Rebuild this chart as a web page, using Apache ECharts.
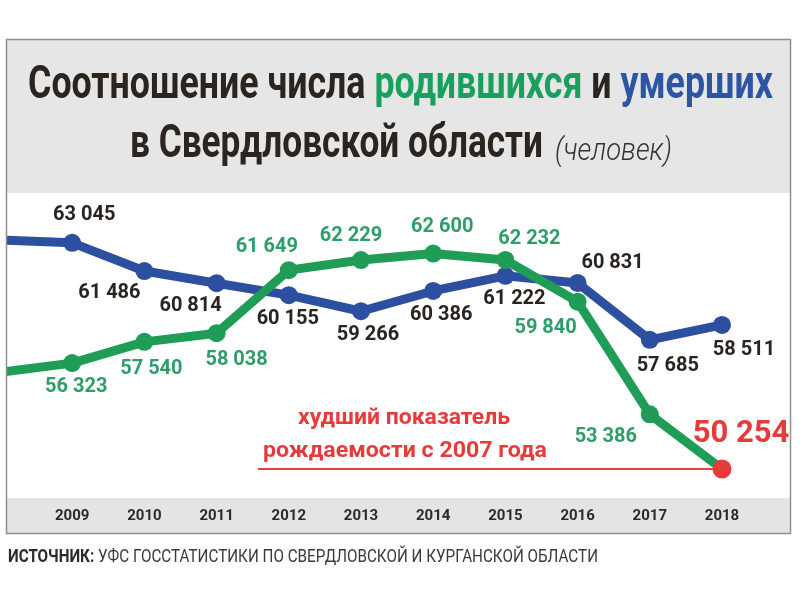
<!DOCTYPE html>
<html><head><meta charset="utf-8">
<script src="https://cdn.jsdelivr.net/npm/echarts@6/dist/echarts.min.js"></script>
<style>html,body{margin:0;padding:0;background:#fff}#c{width:800px;height:600px}</style>
</head><body><div id="c"></div>
<script>
const years = ['2008','2009','2010','2011','2012','2013','2014','2015','2016','2017','2018'];
const deaths = [63200, 63045, 61486, 60814, 60155, 59266, 60386, 61222, 60831, 57685, 58511];
const births = [55800, 56323, 57540, 58038, 61649, 62229, 62600, 62232, 59840, 53386, 50254];
const titleParts = ['Соотношение числа ', 'родившихся', ' и ', 'умерших'];
const titleLine2 = 'в Свердловской области';
const titleUnit = '(человек)';
const noteLines = ['худший показатель', 'рождаемости с 2007 года'];
const sourceBold = 'ИСТОЧНИК:';
const sourceText = ' УФС ГОССТАТИСТИКИ ПО СВЕРДЛОВСКОЙ И КУРГАНСКОЙ ОБЛАСТИ';

// label placements (pixel offsets from the point)
const deathsOff = [null,[12,-28],[-35,22],[-26,23],[-1,24],[7,24],[8,24],[9,23],[35,-20],[18,26],[22,25]];
const birthsOff = [null,[4,24],[7,27],[20,27],[-22,-23],[-10,-24],[9,-27],[24,-21],[-32,26],[-44,23],[19,-35]];

const FF = 'Roboto';
const BLUE = '#2d4f9f', GREEN = '#1f9c55', GREEN_T = '#2e9e68', DARK = '#2a2420', RED = '#e63b3b';
const fmt = v => String(Math.round(v)).replace(/\B(?=(\d{3})+(?!\d))/g, ' ');
const ctx = document.createElement('canvas').getContext('2d');
function mw(font, t){ ctx.font = font; return ctx.measureText(t).width; }

function items(vals, offs, color, last){
  return vals.map((v,i)=>{
    if(i===0) return {value:v, symbol:'none', label:{show:false}};
    const it = {value:v, label:{offset:offs[i]}};
    if(last && i===vals.length-1){
      it.itemStyle = {color: RED};
      it.symbolSize = 19;
      it.label = {offset:offs[i], color: RED, fontSize: 31};
    }
    return it;
  });
}

const chart = echarts.init(document.getElementById('c'), null, {renderer:'canvas'});
chart.setOption({
  animation:false,
  grid:{left:-4.67, right:78, top:200, bottom:110},
  xAxis:{type:'category', data:years, boundaryGap:false,
    axisLine:{show:false}, axisTick:{show:false}, splitLine:{show:false},
    axisLabel:{interval:(i)=>i>0, margin:19, fontFamily:FF, fontWeight:'bold', fontSize:15, color:'#2b2b2b'}},
  yAxis:[
    {type:'value', min:49387, max:65413, show:false, splitLine:{show:false}},
    {type:'value', min:49052, max:65669, show:false, splitLine:{show:false}}
  ],
  series:[
    {type:'line', name:'умерших', yAxisIndex:0, data:items(deaths, deathsOff, BLUE, false),
      lineStyle:{color:BLUE, width:9}, itemStyle:{color:BLUE}, symbol:'circle', symbolSize:18,
      label:{show:true, position:'inside', formatter:p=>fmt(p.value), fontFamily:FF, fontWeight:'bold', fontSize:20, color:DARK},
      emphasis:{disabled:true}, z:2},
    {type:'line', name:'родившихся', yAxisIndex:1, data:items(births, birthsOff, GREEN, true),
      lineStyle:{color:GREEN, width:9}, itemStyle:{color:GREEN}, symbol:'circle', symbolSize:18,
      label:{show:true, position:'inside', formatter:p=>fmt(p.value), fontFamily:FF, fontWeight:'bold', fontSize:20, color:GREEN_T},
      emphasis:{disabled:true}, z:3}
  ]
});

const endPt = chart.convertToPixel({xAxisIndex:0, yAxisIndex:1}, ['2018', births[births.length-1]]);

const f1 = `bold 47px ${FF}`;
const s1 = 745 / mw(f1, titleParts.join(''));
const s2 = 413 / mw(f1, titleLine2);
const fu = `italic 300 31px ${FF}`;
const su = 117 / mw(fu, titleUnit);
const fn = `bold 22px ${FF}`;
const sn1 = 212 / mw(fn, noteLines[0]);
const sn2 = 284 / mw(fn, noteLines[1]);
const fsb = `bold 18px ${FF}`, fsn = `18px ${FF}`;
const ss = 590 / (mw(fsb, sourceBold) + mw(fsn, sourceText));

chart.setOption({
  graphic:[
    {type:'rect', z:-10, shape:{x:7, y:40, width:783, height:153}, style:{fill:'#e6e6e6'}},
    {type:'rect', z:-10, shape:{x:7, y:498, width:783, height:35}, style:{fill:'#e4e4e4'}},
    {type:'rect', z:50, shape:{x:0, y:190, width:6.5, height:320}, style:{fill:'#ffffff'}},
    {type:'rect', z:51, shape:{x:6.5, y:39.5, width:784, height:494}, style:{fill:'none', stroke:'#8f8f8f', lineWidth:1.5}},
    {type:'line', z:1, shape:{x1:258, y1:endPt[1], x2:endPt[0], y2:endPt[1]}, style:{stroke:'#e8413c', lineWidth:2}},
    {type:'text', z:20, x:28, y:86, scaleX:s1, style:{
      text:`{d|${titleParts[0]}}{g|${titleParts[1]}}{d|${titleParts[2]}}{b|${titleParts[3]}}`,
      font:f1, align:'left', verticalAlign:'middle',
      rich:{d:{fill:'#2b241f', font:f1}, g:{fill:'#1aa05e', font:f1}, b:{fill:'#2d55a5', font:f1}}}},
    {type:'text', z:20, x:130, y:145, scaleX:s2, style:{text:titleLine2, font:f1, fill:'#2b241f', align:'left', verticalAlign:'middle'}},
    {type:'text', z:20, x:555, y:152, scaleX:su, style:{text:titleUnit, font:fu, fill:'#333333', align:'left', verticalAlign:'middle'}},
    {type:'text', z:20, x:404, y:418, scaleX:sn1, style:{text:noteLines[0], font:fn, fill:RED, align:'center', verticalAlign:'middle'}},
    {type:'text', z:20, x:405, y:451, scaleX:sn2, style:{text:noteLines[1], font:fn, fill:RED, align:'center', verticalAlign:'middle'}},
    {type:'text', z:20, x:8, y:557, scaleX:ss, style:{
      text:`{b|${sourceBold}}{n|${sourceText}}`, font:fsn, align:'left', verticalAlign:'middle',
      rich:{b:{fill:'#2a2a2a', font:fsb}, n:{fill:'#3a3a3a', font:fsn}}}}
  ]
});
</script></body></html>
